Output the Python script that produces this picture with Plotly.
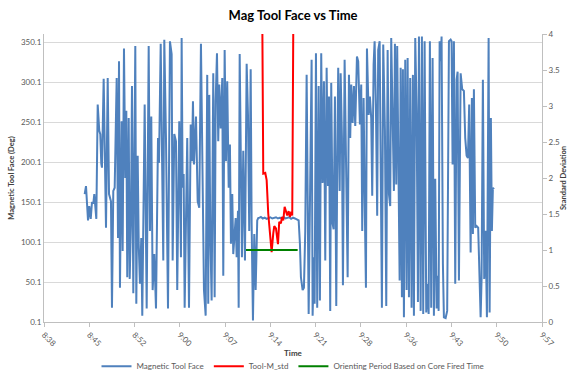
import plotly.graph_objects as go

# ---- data (time in minutes after 08:00) ----
mtf_time = [
    44.87, 45.08, 45.40, 45.60, 45.83, 46.03, 46.24, 46.40, 46.72, 46.94, 47.19, 47.35, 47.51, 47.62,
    47.89, 48.26, 48.53, 48.74, 49.05, 49.21, 49.42, 49.64, 49.96, 50.17, 50.33, 50.48, 50.75, 50.91,
    51.12, 51.33, 51.49, 51.64, 51.87, 52.03, 52.23, 52.39, 52.60, 52.76, 52.92, 53.08, 53.30, 53.46,
    53.66, 53.87, 54.03, 54.41, 54.73, 55.05, 55.25, 55.46, 55.68, 55.94, 56.21, 56.53, 56.69, 56.96,
    57.16, 57.37, 57.53, 57.80, 58.12, 58.43, 58.70, 58.86, 59.12, 59.39, 59.59, 59.91, 60.18, 60.29,
    60.45, 60.61, 60.77, 61.18, 61.46, 61.73, 61.93, 62.09, 62.25, 62.57, 62.84, 63.09, 63.36, 63.63,
    63.84, 64.11, 64.36, 64.52, 64.68, 64.84, 65.06, 65.32, 65.54, 65.70, 65.91, 66.11, 66.27, 66.50,
    66.75, 66.91, 67.13, 67.34, 67.54, 67.77, 67.97, 68.13, 68.34, 68.50, 68.72, 68.88, 69.04, 69.25,
    69.36, 69.52, 69.72, 69.88, 70.09, 70.20, 70.36, 70.63, 70.84, 71.04, 71.27, 71.42, 71.63, 71.84,
    72.06, 72.31, 72.47, 72.70, 72.90, 73.20, 73.50, 73.80, 74.10, 74.40, 74.70, 75.00, 75.30, 75.60,
    75.90, 76.20, 76.50, 76.80, 77.10, 77.40, 77.70, 78.00, 78.30, 78.47, 78.90, 79.10, 79.26, 79.53,
    79.74, 79.95, 80.17, 80.49, 80.69, 80.96, 81.12, 81.33, 81.44, 81.65, 81.85, 82.08, 82.28, 82.49,
    82.71, 82.92, 83.13, 83.35, 83.56, 83.72, 83.92, 84.08, 84.30, 84.46, 84.67, 84.88, 85.03, 85.19,
    85.42, 85.58, 85.78, 85.94, 86.21, 86.42, 86.69, 86.90, 87.10, 87.26, 87.48, 87.69, 87.90, 88.17,
    88.37, 88.64, 88.85, 89.01, 89.23, 89.44, 89.60, 89.76, 90.03, 90.23, 90.44, 90.60, 90.82, 90.98,
    91.19, 91.39, 91.55, 91.78, 91.98, 92.14, 92.35, 92.62, 92.83, 93.05, 93.26, 93.46, 93.62, 93.84,
    94.05, 94.21, 94.42, 94.57, 94.80, 94.96, 95.12, 95.32, 95.48, 95.64, 95.85, 96.07, 96.23, 96.44,
    96.64, 96.86, 97.07, 97.23, 97.44, 97.66, 97.87, 98.03, 98.30, 98.50, 98.71, 98.93, 99.19, 99.41,
    99.57, 99.77, 99.98, 100.20, 100.41, 100.62, 100.84, 101.05, 101.16, 101.32, 101.48, 101.63, 101.84, 102.00,
    102.27, 102.52, 102.80, 103.07, 103.22, 103.38, 103.59, 103.80, 104.02, 104.18, 104.39, 104.66, 104.91, 105.18,
    105.39, 105.61, 105.82, 106.02, 106.25, 106.45, 106.61, 106.77, 106.98, 107.20, 107.45, 107.84, 107.99, 108.20,
    108.41, 108.63, 108.84, 109.11, 109.27, 109.47, 109.63, 109.79, 109.95,
]
mtf_deg = [
    160, 170, 127, 145, 129, 150, 148, 160, 129, 272, 239, 235, 198, 193,
    304, 118, 305, 160, 151, 18, 164, 168, 305, 105, 326, 43, 251, 89,
    342, 180, 264, 56, 255, 54, 127, 295, 36, 239, 345, 23, 208, 98,
    48, 105, 8, 272, 17, 345, 114, 257, 40, 85, 17, 230, 199, 348,
    197, 77, 353, 230, 17, 351, 335, 77, 235, 226, 40, 251, 81, 355,
    168, 185, 18, 230, 18, 247, 201, 276, 197, 257, 151, 143, 348, 185,
    40, 8, 309, 23, 284, 114, 27, 311, 31, 276, 336, 226, 297, 242,
    305, 58, 340, 201, 301, 168, 222, 98, 160, 85, 114, 130, 81, 139,
    18, 335, 193, 81, 214, 139, 77, 323, 259, 114, 316, 123, 2, 110,
    40, 127, 130, 130.5, 131.5, 129.5, 130.5, 129, 130.5, 131, 129.5, 130, 131, 129.5,
    130.5, 130, 131.5, 129.5, 130, 131, 129, 130.5, 129.5, 129, 127, 98, 56, 40,
    43, 114, 309, 10, 139, 328, 8, 81, 23, 336, 18, 295, 27, 336,
    174, 301, 77, 318, 170, 282, 14, 299, 123, 116, 282, 20, 189, 318,
    164, 311, 232, 46, 328, 180, 56, 309, 230, 297, 249, 295, 245, 332,
    326, 247, 297, 114, 280, 130, 43, 342, 259, 282, 255, 158, 322, 351,
    267, 133, 340, 351, 155, 18, 347, 239, 20, 340, 160, 145, 355, 230,
    164, 348, 172, 345, 180, 52, 318, 31, 316, 6, 328, 40, 330, 31,
    305, 18, 309, 8, 355, 264, 25, 357, 14, 357, 10, 351, 12, 48,
    10, 351, 18, 330, 8, 179, 17, 58, 14, 351, 326, 357, 73, 6,
    5, 14, 351, 353, 351, 197, 351, 48, 303, 313, 52, 311, 291, 289,
    230, 208, 205, 272, 87, 280, 110, 291, 118, 120, 118, 6, 54, 303,
    54, 114, 6, 355, 12, 255, 114, 168, 166,
]

std_time = [73.06, 73.27, 73.59, 73.81, 74.06, 74.33, 74.60, 74.86, 75.02, 75.29, 75.61, 75.81,
            76.08, 76.24, 76.45, 76.67, 76.88, 77.08, 77.31, 77.51, 77.72, 77.88, 78.10]
std_val = [5.0, 2.06, 2.07, 1.97, 1.51, 1.18, 0.97, 1.23, 1.33, 1.30, 1.08, 1.39,
           1.37, 1.46, 1.41, 1.60, 1.55, 1.48, 1.54, 1.46, 1.53, 1.48, 5.0]

orient_time = [70.52, 78.74]
orient_val = [1.0, 1.0]

x_tick_vals = [38.4, 45.6, 52.8, 60.0, 67.2, 74.4, 81.6, 88.8, 96.0, 103.2, 110.4, 117.6]
x_tick_text = ["8:38", "8:45", "8:52", "9:00", "9:07", "9:14", "9:21", "9:28", "9:36", "9:43", "9:50", "9:57"]

FONT = "Lato, Liberation Sans, sans-serif"
GRAY = "#595959"
TITLE_GRAY = "#404040"

fig = go.Figure()
fig.add_trace(go.Scatter(x=mtf_time, y=mtf_deg, mode="lines", name="Magnetic Tool Face",
                         line=dict(color="#4F81BD", width=2)))
fig.add_trace(go.Scatter(x=std_time, y=std_val, mode="lines", name="Tool-M_std", yaxis="y2",
                         line=dict(color="#FF0000", width=2)))
fig.add_trace(go.Scatter(x=orient_time, y=orient_val, mode="lines",
                         name="Orienting Period Based on Core Fired Time", yaxis="y2",
                         line=dict(color="#008000", width=2)))

fig.update_layout(
    width=568, height=377,
    margin=dict(l=44, r=26, t=34, b=55, autoexpand=False),
    paper_bgcolor="white", plot_bgcolor="white",
    font=dict(family=FONT, size=8, color=GRAY),
    title=dict(text="<b>Mag Tool Face vs Time</b>", x=0.516, xanchor="center",
               y=1 - 15 / 377, yanchor="middle", font=dict(size=13, color="#000000", family=FONT)),
    xaxis=dict(range=[38.4, 117.6], tickvals=x_tick_vals, ticktext=x_tick_text, tickangle=45,
               showgrid=False, zeroline=False, showline=True, linecolor="#bfbfbf",
               ticks="outside", ticklen=4, tickcolor="#bfbfbf", tickfont=dict(size=8, color=GRAY),
               title=dict(text="<b>Time</b>", standoff=0, font=dict(size=8, color=TITLE_GRAY))),
    yaxis=dict(range=[0.1, 360.1], tick0=0.1, dtick=50, tickformat=".1f",
               showgrid=True, gridcolor="#d9d9d9", gridwidth=1, zeroline=False,
               showline=True, linecolor="#bfbfbf", tickfont=dict(size=8, color=GRAY),
               title=dict(text="<b>Magnetic Tool Face (Deg)</b>", standoff=5,
                          font=dict(size=7.5, color=TITLE_GRAY))),
    yaxis2=dict(range=[0, 4], dtick=0.5, overlaying="y", side="right", showgrid=False,
                zeroline=False, showline=True, linecolor="#bfbfbf", ticks="outside",
                ticklen=4, tickcolor="#bfbfbf", tickfont=dict(size=8, color=GRAY),
                title=dict(text="<b>Standard Deviation</b>", standoff=6,
                           font=dict(size=7.5, color=TITLE_GRAY))),
    legend=dict(orientation="h", x=0.5, xanchor="center", y=-0.154, yanchor="middle",
                font=dict(size=8, color=GRAY), bgcolor="rgba(0,0,0,0)"),
    showlegend=True,
)

fig.write_html("out.html", config={"displayModeBar": False},
               post_script="document.body.style.margin='0px';document.body.style.overflow='hidden';")
